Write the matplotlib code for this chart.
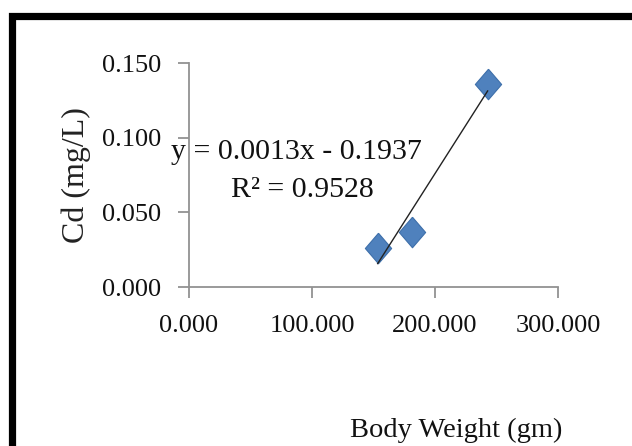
import matplotlib.pyplot as plt
import numpy as np
from matplotlib.patches import Rectangle

# Values
body_weight = [153.4, 181.5, 242.8]
cd_conc = [0.026, 0.037, 0.136]
x_ticks = [0, 100, 200, 300]
y_ticks = [0.0, 0.05, 0.10, 0.15]
equation = 'y = 0.0013x - 0.1937'
r_squared = 'R\u00b2 = 0.9528'

plt.rcParams['font.family'] = ['Liberation Serif', 'DejaVu Serif']

W, H = 632, 446
fig = plt.figure(figsize=(W / 100, H / 100), dpi=100)

def fx(px):
    return px / W

def fy(py):
    return 1 - py / H

ax = fig.add_axes([fx(189), fy(287), fx(558) - fx(189), fy(63) - fy(287)])

# thick black frame, cut off at right and bottom
fig.patches.append(Rectangle((fx(11.5), -0.2), 1.5, fy(16) + 0.2,
                             transform=fig.transFigure, fill=False,
                             edgecolor='black', linewidth=5.2))

# diamond marker a bit taller than wide
diamond = [(0, 1), (0.86, 0), (0, -1), (-0.86, 0), (0, 1)]
ax.plot(body_weight, cd_conc, linestyle='none', marker=diamond, markersize=22,
        markerfacecolor='#4F81BD', markeredgecolor='#3D6FAA', markeredgewidth=0.8,
        zorder=3, clip_on=False)

# linear trendline over the range of the data
slope, intercept = np.polyfit(body_weight, cd_conc, 1)
xs = np.array([min(body_weight), max(body_weight)])
ax.plot(xs, slope * xs + intercept, color='#222222', linewidth=1.0, zorder=4)

ax.set_xlim(0, 300)
ax.set_ylim(0, 0.15)
ax.set_xticks(x_ticks)
ax.set_yticks(y_ticks)
ax.set_xticklabels(['%.3f' % v for v in x_ticks])
ax.set_yticklabels(['%.3f' % v for v in y_ticks])

for s in ['top', 'right']:
    ax.spines[s].set_visible(False)
for s in ['left', 'bottom']:
    ax.spines[s].set_color('#929292')
    ax.spines[s].set_linewidth(1.3)
ax.tick_params(axis='both', direction='out', length=8, width=1.3, color='#929292',
               labelsize=19, labelcolor='#111111')
ax.tick_params(axis='y', pad=12)
ax.tick_params(axis='x', pad=12)

fig.text(fx(296), fy(152), equation, ha='center', va='center', fontsize=21.5, color='#111111')
fig.text(fx(302), fy(190), r_squared, ha='center', va='center', fontsize=21.5, color='#111111')

fig.text(fx(76), fy(175), 'Cd (mg/L)', rotation=90, ha='center', va='center',
         fontsize=23, color='#222222')
fig.text(fx(456), fy(430), 'Body Weight (gm)', ha='center', va='center',
         fontsize=20.5, color='#111111')

fig.savefig('out.png', dpi=100)
